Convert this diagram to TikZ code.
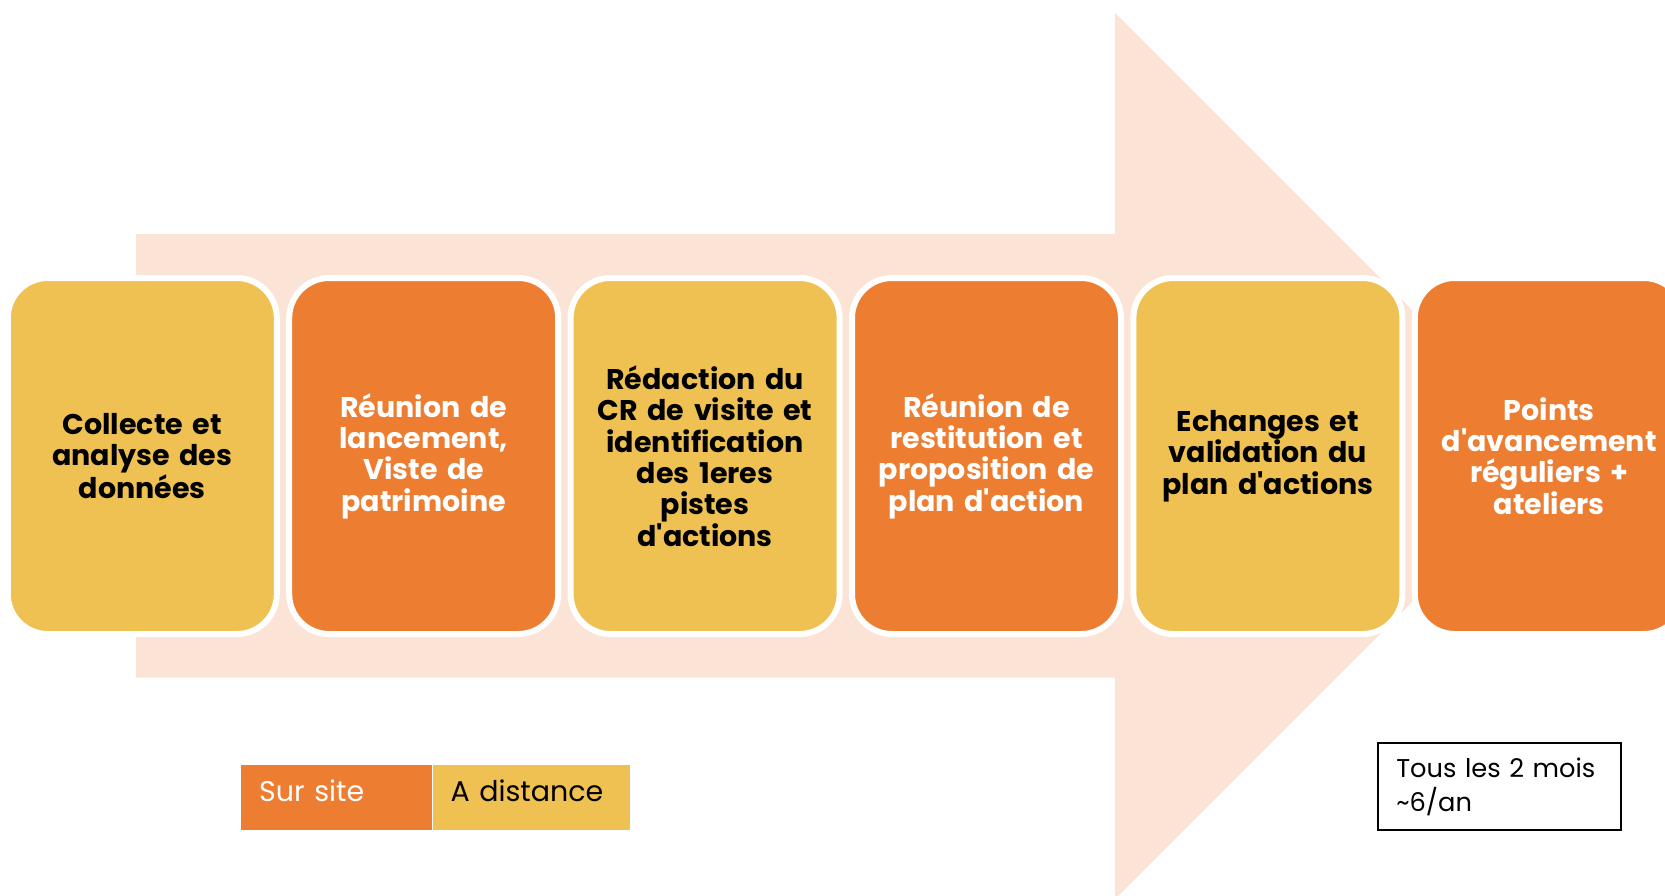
\documentclass[tikz,border=0pt]{standalone}
\usepackage{fontspec}
\setmainfont{Poppins}
\usepackage{tikz}
\usetikzlibrary{positioning}
\definecolor{onsite}{RGB}{237, 125, 49}
\definecolor{remote}{RGB}{239, 193, 82}
\definecolor{flow}{RGB}{251, 228, 213}

\begin{document}
\begin{tikzpicture}[x=1pt, y=-1pt,
    box/.style={rectangle, rounded corners=40pt, draw=white, line width=6pt,
                minimum width=269pt, minimum height=356pt, text width=250pt, align=center,
                font=\fontsize{28.5}{31.3}\selectfont\bfseries},
    legend/.style={rectangle, minimum height=65pt, inner xsep=18pt, inner ysep=0pt, align=left,
                text height=20pt, text depth=13pt, font=\fontsize{28.5}{32}\selectfont}]
    \useasboundingbox (0,0) rectangle (1665,895);
    \clip (0,0) rectangle (1665,895);

    % Big arrow
    \fill[flow] (136,234) -- (1115,234) -- (1115,13) -- (1558,456)
        -- (1115,899) -- (1115,677.5) -- (136,677.5) -- cycle;

    % Boxes
    \node[box, fill=remote, text=black] (collecte) at (142.3,456) {Collecte et\\analyse des\\données};
    \node[box, fill=onsite, text=white] (lancement) at (423.7,456) {Réunion de\\lancement,\\Viste de\\patrimoine};
    \node[box, fill=remote, text=black] (redaction) at (705.1,456) {Rédaction du\\CR de visite et\\identification\\des 1eres\\pistes\\d\textquotesingle actions};
    \node[box, fill=onsite, text=white] (restitution) at (986.5,456) {Réunion de\\restitution et\\proposition de\\plan d\textquotesingle action};
    \node[box, fill=remote, text=black] (validation) at (1267.9,456) {Echanges et\\validation du\\plan d\textquotesingle actions};
    \node[box, fill=onsite, text=white] (points) at (1549.3,456) {Points\\d\textquotesingle avancement\\réguliers +\\ateliers};

    % Legend
    \node[legend, fill=onsite, text=white, text width=155pt, anchor=west] (sursite) at (241,797.5) {Sur site};
    \node[legend, fill=remote, text=black, text width=161pt, right=0pt of sursite] (distance) {A distance};

    % Note
    \node[legend, draw=black, line width=2pt, minimum width=243pt, minimum height=87pt,
          text height=, text depth=, text width=207pt, font=\fontsize{25.7}{34}\selectfont] (frequence) at (1499.75,786.5)
          {Tous les 2 mois\\\textasciitilde 6/an};
\end{tikzpicture}
\end{document}
